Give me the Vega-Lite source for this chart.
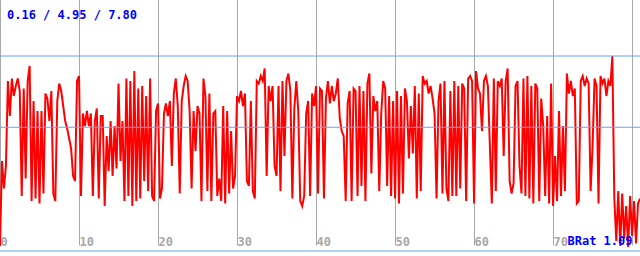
{
  "$schema": "https://vega.github.io/schema/vega-lite/v6.json",
  "width": 640,
  "height": 256,
  "autosize": "none",
  "padding": 0,
  "background": "#ffffff",
  "config": {
    "view": {"stroke": null},
    "axisY": {"disable": true},
    "axisX": {
      "grid": true,
      "gridColor": "#a8a8a8",
      "gridWidth": 1,
      "gridOpacity": 1,
      "domain": false,
      "ticks": false,
      "tickSize": 0,
      "labelColor": "#a8a8a8",
      "labelFont": "DejaVu Sans Mono",
      "labelFontWeight": "bold",
      "labelFontSize": 12,
      "labelAlign": "left",
      "labelBaseline": "alphabetic",
      "labelPadding": 0,
      "labelDx": 7,
      "labelFlush": false,
      "labelBound": false,
      "labelOverlap": false,
      "offset": -11,
      "zindex": 1
    }
  },
  "layer": [
    {
      "data": {"values": [
{"x":0,"v":0.2},{"x":0.25,"v":3.6},{"x":0.5,"v":2.5},{"x":0.75,"v":3.4},
{"x":1,"v":6.8},{"x":1.25,"v":5.4},{"x":1.5,"v":6.9},{"x":1.75,"v":6.2},
{"x":2,"v":6.6},{"x":2.25,"v":6.9},{"x":2.5,"v":6.4},{"x":2.75,"v":2.2},
{"x":3,"v":6.5},{"x":3.25,"v":2.9},{"x":3.5,"v":6.8},{"x":3.75,"v":7.4},
{"x":4,"v":2.0},{"x":4.25,"v":6.0},{"x":4.5,"v":2.1},{"x":4.75,"v":5.6},
{"x":5,"v":1.9},{"x":5.25,"v":5.6},{"x":5.5,"v":2.3},{"x":5.75,"v":6.3},
{"x":6,"v":6.1},{"x":6.25,"v":5.2},{"x":6.5,"v":6.4},{"x":6.75,"v":2.3},
{"x":7,"v":2.0},{"x":7.25,"v":6.0},{"x":7.5,"v":6.7},{"x":7.75,"v":6.4},
{"x":8,"v":5.8},{"x":8.25,"v":5.2},{"x":8.5,"v":4.9},{"x":8.75,"v":4.5},
{"x":9,"v":4.1},{"x":9.25,"v":3.0},{"x":9.5,"v":2.8},{"x":9.75,"v":6.8},
{"x":10,"v":7.0},{"x":10.25,"v":2.2},{"x":10.5,"v":5.5},{"x":10.75,"v":5.0},
{"x":11,"v":5.6},{"x":11.25,"v":5.0},{"x":11.5,"v":5.5},{"x":11.75,"v":2.2},
{"x":12,"v":5.2},{"x":12.25,"v":5.7},{"x":12.5,"v":2.1},{"x":12.75,"v":5.4},
{"x":13,"v":5.4},{"x":13.25,"v":1.8},{"x":13.5,"v":4.6},{"x":13.75,"v":3.2},
{"x":14,"v":5.2},{"x":14.25,"v":3.0},{"x":14.5,"v":5.0},{"x":14.75,"v":3.3},
{"x":15,"v":6.7},{"x":15.25,"v":3.6},{"x":15.5,"v":5.2},{"x":15.75,"v":2.0},
{"x":16,"v":6.9},{"x":16.25,"v":2.2},{"x":16.5,"v":6.8},{"x":16.75,"v":1.8},
{"x":17,"v":7.2},{"x":17.25,"v":2.0},{"x":17.5,"v":6.5},{"x":17.75,"v":2.1},
{"x":18,"v":6.6},{"x":18.25,"v":2.8},{"x":18.5,"v":6.2},{"x":18.75,"v":2.4},
{"x":19,"v":6.9},{"x":19.25,"v":2.2},{"x":19.5,"v":2.0},{"x":19.75,"v":5.6},
{"x":20,"v":5.9},{"x":20.25,"v":2.1},{"x":20.5,"v":2.5},{"x":20.75,"v":5.5},
{"x":21,"v":5.9},{"x":21.25,"v":5.4},{"x":21.5,"v":6.0},{"x":21.75,"v":3.4},
{"x":22,"v":6.3},{"x":22.25,"v":6.9},{"x":22.5,"v":5.8},{"x":22.75,"v":2.3},
{"x":23,"v":6.0},{"x":23.25,"v":6.6},{"x":23.5,"v":7.0},{"x":23.75,"v":6.8},
{"x":24,"v":5.6},{"x":24.25,"v":2.5},{"x":24.5,"v":5.6},{"x":24.75,"v":4.0},
{"x":25,"v":5.8},{"x":25.25,"v":5.5},{"x":25.5,"v":2.0},{"x":25.75,"v":6.9},
{"x":26,"v":6.2},{"x":26.25,"v":2.4},{"x":26.5,"v":6.3},{"x":26.75,"v":2.0},
{"x":27,"v":5.5},{"x":27.25,"v":5.6},{"x":27.5,"v":2.2},{"x":27.75,"v":2.9},
{"x":28,"v":2.0},{"x":28.25,"v":5.8},{"x":28.5,"v":1.9},{"x":28.75,"v":5.6},
{"x":29,"v":2.3},{"x":29.25,"v":4.8},{"x":29.5,"v":2.5},{"x":29.75,"v":3.0},
{"x":30,"v":6.2},{"x":30.25,"v":6.0},{"x":30.5,"v":6.4},{"x":30.75,"v":5.8},
{"x":31,"v":6.3},{"x":31.25,"v":2.8},{"x":31.5,"v":2.6},{"x":31.75,"v":6.0},
{"x":32,"v":2.4},{"x":32.25,"v":2.1},{"x":32.5,"v":6.8},{"x":32.75,"v":6.7},
{"x":33,"v":7.0},{"x":33.25,"v":6.8},{"x":33.5,"v":7.3},{"x":33.75,"v":3.0},
{"x":34,"v":6.6},{"x":34.25,"v":6.0},{"x":34.5,"v":6.6},{"x":34.75,"v":3.4},
{"x":35,"v":3.0},{"x":35.25,"v":6.6},{"x":35.5,"v":2.4},{"x":35.75,"v":6.8},
{"x":36,"v":3.8},{"x":36.25,"v":6.8},{"x":36.5,"v":7.1},{"x":36.75,"v":6.4},
{"x":37,"v":2.1},{"x":37.25,"v":5.7},{"x":37.5,"v":6.8},{"x":37.75,"v":5.6},
{"x":38,"v":2.0},{"x":38.25,"v":1.8},{"x":38.5,"v":2.2},{"x":38.75,"v":5.5},
{"x":39,"v":6.0},{"x":39.25,"v":2.2},{"x":39.5,"v":6.3},{"x":39.75,"v":5.8},
{"x":40,"v":6.6},{"x":40.25,"v":2.3},{"x":40.5,"v":6.5},{"x":40.75,"v":6.4},
{"x":41,"v":2.1},{"x":41.25,"v":6.1},{"x":41.5,"v":6.8},{"x":41.75,"v":5.9},
{"x":42,"v":6.6},{"x":42.25,"v":6.0},{"x":42.5,"v":6.3},{"x":42.75,"v":6.9},
{"x":43,"v":5.3},{"x":43.25,"v":4.8},{"x":43.5,"v":4.6},{"x":43.75,"v":2.0},
{"x":44,"v":5.9},{"x":44.25,"v":6.4},{"x":44.5,"v":2.0},{"x":44.75,"v":6.5},
{"x":45,"v":6.4},{"x":45.25,"v":2.2},{"x":45.5,"v":6.6},{"x":45.75,"v":2.6},
{"x":46,"v":6.4},{"x":46.25,"v":2.0},{"x":46.5,"v":6.7},{"x":46.75,"v":7.1},
{"x":47,"v":3.1},{"x":47.25,"v":6.2},{"x":47.5,"v":5.6},{"x":47.75,"v":6.0},
{"x":48,"v":2.4},{"x":48.25,"v":5.5},{"x":48.5,"v":6.8},{"x":48.75,"v":6.5},
{"x":49,"v":2.6},{"x":49.25,"v":6.2},{"x":49.5,"v":2.2},{"x":49.75,"v":6.0},
{"x":50,"v":2.1},{"x":50.25,"v":6.4},{"x":50.5,"v":1.9},{"x":50.75,"v":6.2},
{"x":51,"v":2.3},{"x":51.25,"v":6.5},{"x":51.5,"v":6.0},{"x":51.75,"v":3.7},
{"x":52,"v":5.8},{"x":52.25,"v":3.9},{"x":52.5,"v":6.6},{"x":52.75,"v":2.1},
{"x":53,"v":6.3},{"x":53.25,"v":2.4},{"x":53.5,"v":7.0},{"x":53.75,"v":6.7},
{"x":54,"v":6.8},{"x":54.25,"v":6.3},{"x":54.5,"v":6.6},{"x":54.75,"v":6.1},
{"x":55,"v":5.5},{"x":55.25,"v":2.1},{"x":55.5,"v":6.0},{"x":55.75,"v":6.7},
{"x":56,"v":2.3},{"x":56.25,"v":6.8},{"x":56.5,"v":2.5},{"x":56.75,"v":2.0},
{"x":57,"v":6.4},{"x":57.25,"v":2.2},{"x":57.5,"v":6.8},{"x":57.75,"v":2.2},
{"x":58,"v":6.6},{"x":58.25,"v":2.5},{"x":58.5,"v":6.7},{"x":58.75,"v":6.5},
{"x":59,"v":2.0},{"x":59.25,"v":6.9},{"x":59.5,"v":7.0},{"x":59.75,"v":6.8},
{"x":60,"v":1.9},{"x":60.25,"v":7.2},{"x":60.5,"v":6.5},{"x":60.75,"v":6.3},
{"x":61,"v":4.8},{"x":61.25,"v":6.8},{"x":61.5,"v":7.0},{"x":61.75,"v":6.6},
{"x":62,"v":4.2},{"x":62.25,"v":1.9},{"x":62.5,"v":6.9},{"x":62.75,"v":2.4},
{"x":63,"v":6.8},{"x":63.25,"v":6.6},{"x":63.5,"v":6.9},{"x":63.75,"v":3.8},
{"x":64,"v":6.8},{"x":64.25,"v":7.3},{"x":64.5,"v":2.8},{"x":64.75,"v":2.3},
{"x":65,"v":2.7},{"x":65.25,"v":6.6},{"x":65.5,"v":6.8},{"x":65.75,"v":3.4},
{"x":66,"v":2.3},{"x":66.25,"v":6.9},{"x":66.5,"v":2.2},{"x":66.75,"v":7.0},
{"x":67,"v":2.1},{"x":67.25,"v":6.6},{"x":67.5,"v":1.9},{"x":67.75,"v":6.7},
{"x":68,"v":6.5},{"x":68.25,"v":2.0},{"x":68.5,"v":6.1},{"x":68.75,"v":5.0},
{"x":69,"v":2.2},{"x":69.25,"v":5.4},{"x":69.5,"v":1.9},{"x":69.75,"v":6.7},
{"x":70,"v":1.8},{"x":70.25,"v":3.8},{"x":70.5,"v":2.0},{"x":70.75,"v":5.6},
{"x":71,"v":2.2},{"x":71.25,"v":5.0},{"x":71.5,"v":2.4},{"x":71.75,"v":7.1},
{"x":72,"v":6.3},{"x":72.25,"v":6.8},{"x":72.5,"v":6.2},{"x":72.75,"v":6.5},
{"x":73,"v":1.9},{"x":73.25,"v":2.0},{"x":73.5,"v":6.8},{"x":73.75,"v":7.0},
{"x":74,"v":6.6},{"x":74.25,"v":6.9},{"x":74.5,"v":6.7},{"x":74.75,"v":2.4},
{"x":75,"v":4.2},{"x":75.25,"v":6.9},{"x":75.5,"v":6.6},{"x":75.75,"v":1.9},
{"x":76,"v":7.0},{"x":76.25,"v":6.7},{"x":76.5,"v":6.9},{"x":76.75,"v":6.2},
{"x":77,"v":6.8},{"x":77.25,"v":6.6},{"x":77.5,"v":7.8},{"x":77.75,"v":2.1},
{"x":78,"v":0.4},{"x":78.25,"v":2.4},{"x":78.5,"v":0.2},{"x":78.75,"v":2.3},
{"x":79,"v":0.5},{"x":79.25,"v":1.8},{"x":79.5,"v":0.16},{"x":79.75,"v":2.2},
{"x":80,"v":0.6},{"x":80.25,"v":2.0},{"x":80.5,"v":0.3},{"x":80.75,"v":1.9},
{"x":81,"v":2.1}
      ]},
      "mark": {"type": "line", "color": "#ff0000", "strokeWidth": 2},
      "encoding": {
        "x": {"field": "x", "type": "quantitative", "title": null,
              "scale": {"domain": [0, 81], "nice": false, "zero": false},
              "axis": {"values": [0, 10, 20, 30, 40, 50, 60, 70, 80], "format": "d",
                       "labelExpr": "datum.value >= 80 ? '' : datum.label"}},
        "y": {"field": "v", "type": "quantitative", "title": null,
              "scale": {"domain": [-0.2, 10.04], "nice": false, "zero": false}}
      }
    },
    {
      "data": {"values": [{"ref": 7.8}, {"ref": 4.95}, {"ref": 0}]},
      "mark": {"type": "rule", "color": "#60a8f0", "strokeWidth": 1},
      "encoding": {
        "y": {"field": "ref", "type": "quantitative", "title": null}
      }
    },
    {
      "data": {"values": [{"t": "0.16 / 4.95 / 7.80"}]},
      "mark": {"type": "text", "color": "#0000ff", "font": "DejaVu Sans Mono", "fontWeight": "bold", "fontSize": 12, "align": "left", "baseline": "alphabetic", "dx": 7},
      "encoding": {
        "x": {"datum": 0, "type": "quantitative", "title": null},
        "y": {"datum": 9.28, "type": "quantitative", "title": null},
        "text": {"field": "t"}
      }
    },
    {
      "data": {"values": [{"t": "BRat 1.09"}]},
      "mark": {"type": "text", "color": "#0000ff", "font": "DejaVu Sans Mono", "fontWeight": "bold", "fontSize": 12, "align": "right", "baseline": "alphabetic", "dx": -7.5},
      "encoding": {
        "x": {"datum": 81, "type": "quantitative", "title": null},
        "y": {"datum": 0.24, "type": "quantitative", "title": null},
        "text": {"field": "t"}
      }
    }
  ]
}
